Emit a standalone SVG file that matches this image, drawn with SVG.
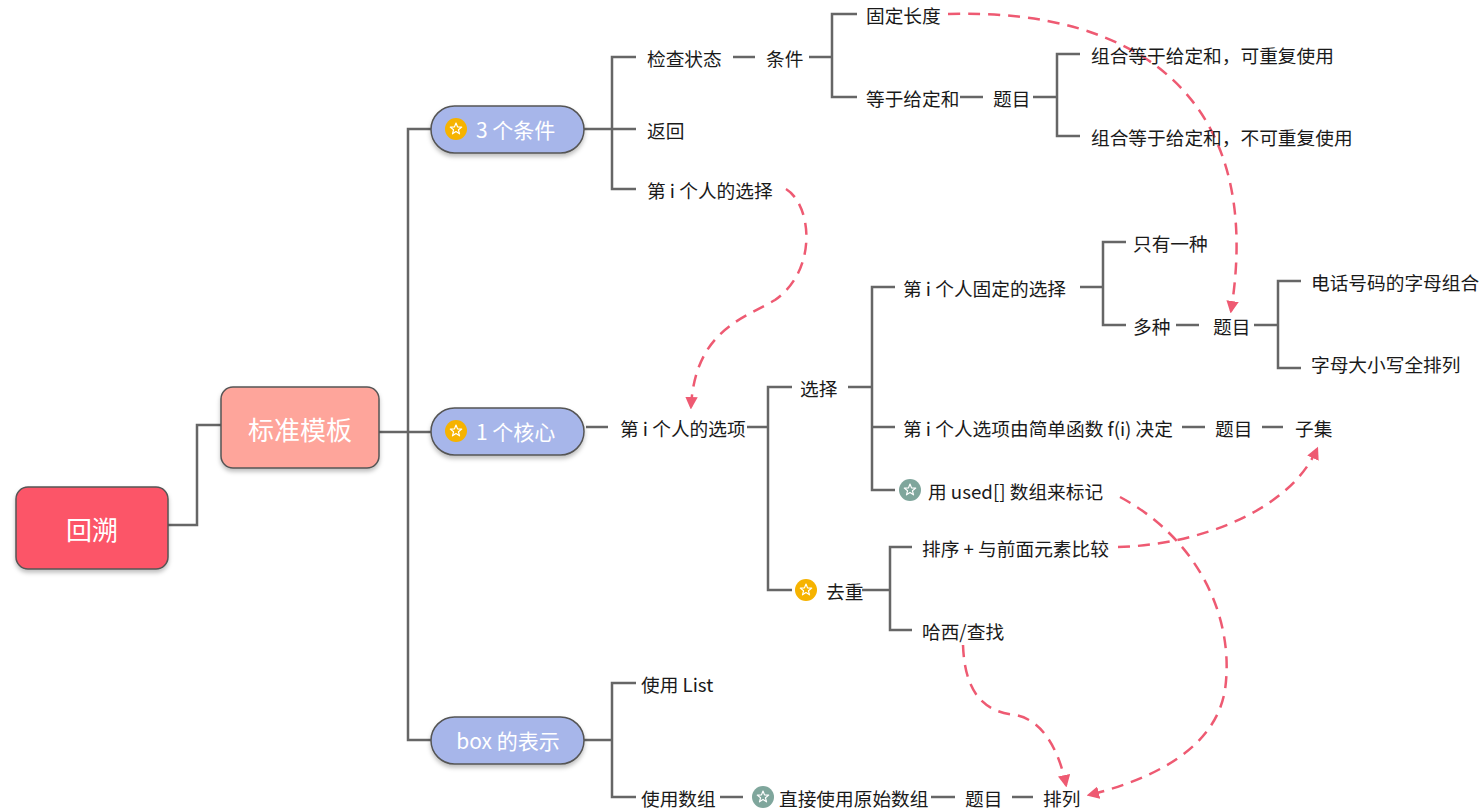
<svg xmlns="http://www.w3.org/2000/svg" width="1481" height="811" viewBox="0 0 1481 811">
<style>
text{font-family:"Noto Sans CJK SC","Noto Sans",sans-serif;dominant-baseline:central}
.t{font-size:18.7px;fill:#1a1a1a}
.w{fill:#fff}
.pill{fill:#a7b6ea;stroke:#555;stroke-width:1.5}
.ln{fill:none;stroke:#666;stroke-width:2.5}
.dash{fill:none;stroke:#ee5a72;stroke-width:2.5;stroke-dasharray:12 8}
.star{fill:none;stroke:#fff;stroke-width:1.2;stroke-linejoin:round}
</style>
<defs>
<filter id="sh" x="-20%" y="-20%" width="140%" height="150%">
<feDropShadow dx="0" dy="3" stdDeviation="2" flood-color="#000" flood-opacity="0.25"/>
</filter>
<marker id="ah" viewBox="0 0 10 10" refX="8" refY="5" markerWidth="5" markerHeight="5" orient="auto" markerUnits="strokeWidth">
<path d="M0 0 L10 5 L0 10 z" fill="#ee5a72"/>
</marker>
<symbol id="ys" viewBox="-11 -11 22 22" overflow="visible">
<circle r="11" fill="#f6b300"/>
<polygon class="star" points="0,-6 1.53,-2.1 5.71,-1.85 2.47,0.8 3.53,4.85 0,2.6 -3.53,4.85 -2.47,0.8 -5.71,-1.85 -1.53,-2.1"/>
</symbol>
<symbol id="gs" viewBox="-11 -11 22 22" overflow="visible">
<circle r="11" fill="#7fa69c"/>
<polygon class="star" points="0,-6 1.53,-2.1 5.71,-1.85 2.47,0.8 3.53,4.85 0,2.6 -3.53,4.85 -2.47,0.8 -5.71,-1.85 -1.53,-2.1"/>
</symbol>
</defs>
<rect width="1481" height="811" fill="#fff"/>

<g id="connectors">
<path class="ln" d="M168 525 H197 V425 H221"/>
<path class="ln" d="M379 432 H408"/>
<path class="ln" d="M431 129 H408 V740 H431 M408 432 H431"/>
<path class="ln" d="M584 129 H612 M636 57 H612 V189 H636 M612 129 H636"/>
<path class="ln" d="M733 57 H755"/>
<path class="ln" d="M809 57 H832 M857 14 H832 V97 H857"/>
<path class="ln" d="M960 97 H983"/>
<path class="ln" d="M1033 97 H1057 M1080 54 H1057 V136 H1080"/>
<path class="ln" d="M586 427 H608"/>
<path class="ln" d="M747 427 H768 M792 387 H768 V590 H792"/>
<path class="ln" d="M848 387 H872 M895 287 H872 V490 H895 M872 427 H895"/>
<path class="ln" d="M1080 287 H1103 M1126 242 H1103 V325 H1126"/>
<path class="ln" d="M1176 325 H1199"/>
<path class="ln" d="M1254 325 H1278 M1301 281 H1278 V368 H1301"/>
<path class="ln" d="M1182 427 H1205"/>
<path class="ln" d="M1262 427 H1283"/>
<path class="ln" d="M862 590 H890 M912 547 H890 V630 H912"/>
<path class="ln" d="M584 740 H612 M636 683 H612 V797 H636"/>
<path class="ln" d="M720 797 H743"/>
<path class="ln" d="M931 797 H955"/>
<path class="ln" d="M1012 797 H1033"/>

<path class="dash" marker-end="url(#ah)" d="M948 14 C1140 8, 1265 100, 1231 311"/>
<path class="dash" marker-end="url(#ah)" d="M786 189 C812 205, 818 270, 775 300 C745 318, 695 330, 691 407"/>
<path class="dash" marker-end="url(#ah)" d="M1120 497 C1200 540, 1235 620, 1225 690 C1215 750, 1150 780, 1089 795"/>
<path class="dash" marker-end="url(#ah)" d="M1118 547 C1200 545, 1290 510, 1317 449"/>
<path class="dash" marker-end="url(#ah)" d="M963 645 C965 700, 990 712, 1015 715 C1045 720, 1060 755, 1066 785"/>
</g>

<g id="n-root"><rect x="16" y="487" width="152" height="82" rx="12" fill="#fc5467" stroke="#555" stroke-width="1.5" filter="url(#sh)"/><text class="w" x="92" y="528" font-size="26" text-anchor="middle">回溯</text></g>
<g id="n-template"><rect x="221" y="387" width="158" height="81" rx="12" fill="#fea59b" stroke="#555" stroke-width="1.5" filter="url(#sh)"/><text class="w" x="300" y="428" font-size="26" text-anchor="middle">标准模板</text></g>

<g id="n-cond3"><rect class="pill" x="431" y="106" width="153" height="47" rx="23.5" filter="url(#sh)"/><use href="#ys" x="445" y="118" width="22" height="22"/><text class="w" x="476" y="129" font-size="21">3 个条件</text></g>
<g id="n-core1"><rect class="pill" x="431" y="408" width="153" height="47" rx="23.5" filter="url(#sh)"/><use href="#ys" x="445" y="420" width="22" height="22"/><text class="w" x="476" y="431" font-size="21">1 个核心</text></g>
<g id="n-box"><rect class="pill" x="431" y="717" width="153" height="47" rx="23.5" filter="url(#sh)"/><text class="w" x="508" y="740" font-size="21" text-anchor="middle">box 的表示</text></g>

<g id="n-check"><text class="t" x="647" y="57">检查状态</text></g>
<g id="n-cond"><text class="t" x="766" y="57">条件</text></g>
<g id="n-fixlen"><text class="t" x="866" y="14">固定长度</text></g>
<g id="n-eqsum"><text class="t" x="866" y="97">等于给定和</text></g>
<g id="n-q1"><text class="t" x="993" y="97">题目</text></g>
<g id="n-comb1"><text class="t" x="1091" y="54">组合等于给定和，可重复使用</text></g>
<g id="n-comb2"><text class="t" x="1091" y="136">组合等于给定和，不可重复使用</text></g>
<g id="n-return"><text class="t" x="647" y="129">返回</text></g>
<g id="n-choice"><text class="t" x="647" y="189">第 i 个人的选择</text></g>

<g id="n-options"><text class="t" x="620" y="427">第 i 个人的选项</text></g>
<g id="n-select"><text class="t" x="800" y="387">选择</text></g>
<g id="n-fixed"><text class="t" x="903" y="287">第 i 个人固定的选择</text></g>
<g id="n-one"><text class="t" x="1133" y="242">只有一种</text></g>
<g id="n-many"><text class="t" x="1133" y="325">多种</text></g>
<g id="n-q2"><text class="t" x="1213" y="325">题目</text></g>
<g id="n-phone"><text class="t" x="1311" y="281">电话号码的字母组合</text></g>
<g id="n-case"><text class="t" x="1311" y="363">字母大小写全排列</text></g>
<g id="n-func"><text class="t" x="903" y="427">第 i 个人选项由简单函数 f(i) 决定</text></g>
<g id="n-q3"><text class="t" x="1215" y="427">题目</text></g>
<g id="n-subset"><text class="t" x="1295" y="427">子集</text></g>
<g id="n-used"><use href="#gs" x="899" y="479" width="22" height="22"/><text class="t" x="928" y="490">用 used[] 数组来标记</text></g>
<g id="n-dedup"><use href="#ys" x="795" y="579" width="22" height="22"/><text class="t" x="826" y="590">去重</text></g>
<g id="n-sort"><text class="t" x="922" y="547">排序 + 与前面元素比较</text></g>
<g id="n-hash"><text class="t" x="922" y="630">哈西/查找</text></g>

<g id="n-list"><text class="t" x="641" y="683">使用 List</text></g>
<g id="n-array"><text class="t" x="641" y="797">使用数组</text></g>
<g id="n-raw"><use href="#gs" x="752" y="786" width="22" height="22"/><text class="t" x="779" y="797">直接使用原始数组</text></g>
<g id="n-q4"><text class="t" x="965" y="797">题目</text></g>
<g id="n-perm"><text class="t" x="1043" y="797">排列</text></g>
</svg>
